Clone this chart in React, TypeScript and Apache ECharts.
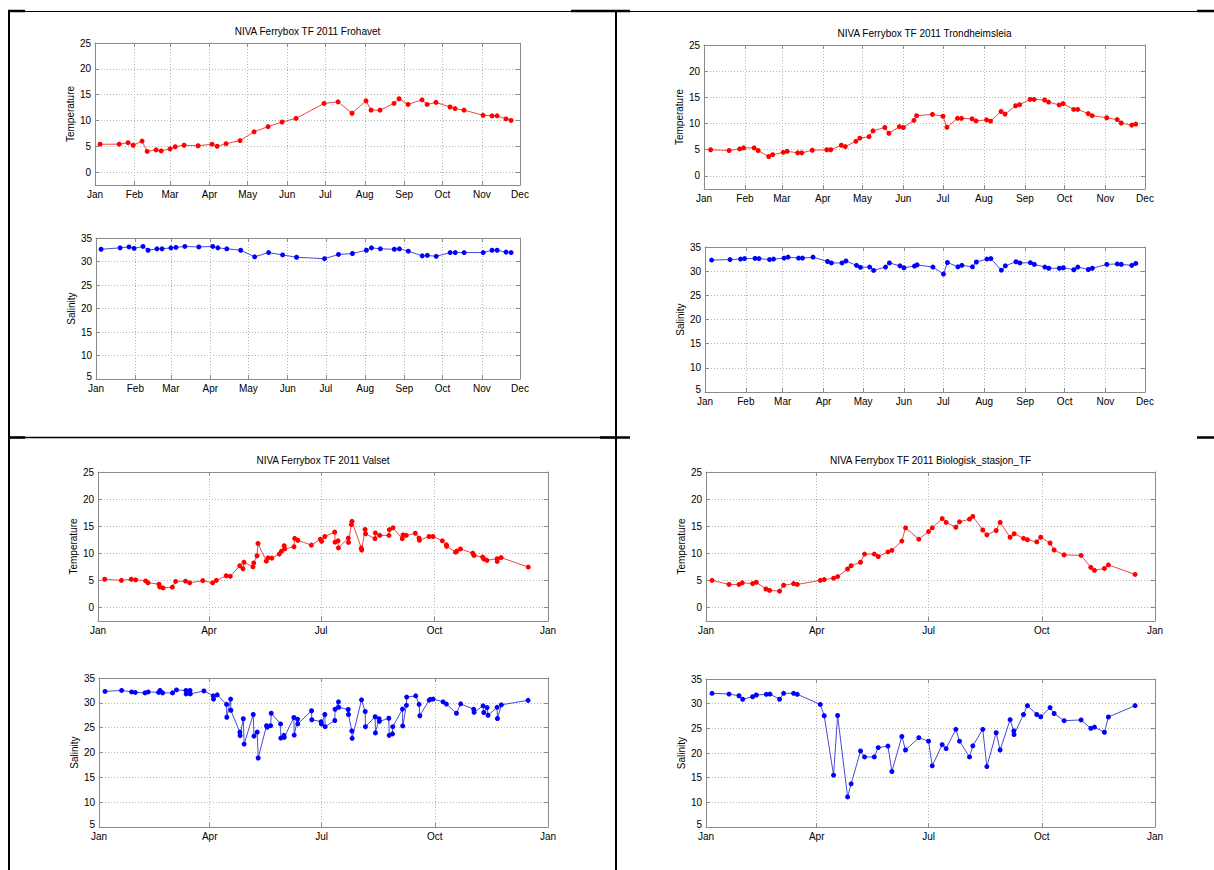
import React, { useEffect, useRef } from "react";
import * as echarts from "echarts";

// Axis ticks (day of year 2011) and their labels
const monthTicks = [0, 31, 59, 90, 120, 151, 181, 212, 243, 273, 304, 334];
const monthLabels = ["Jan", "Feb", "Mar", "Apr", "May", "Jun", "Jul", "Aug", "Sep", "Oct", "Nov", "Dec"];
const quarterTicks = [0, 90, 181, 273, 365];
const quarterLabels = ["Jan", "Apr", "Jul", "Oct", "Jan"];
const tempTicks = [0, 5, 10, 15, 20, 25];
const salTicks = [5, 10, 15, 20, 25, 30, 35];

// Frohavet
const frohavetDays = [4, 19, 26, 30, 37, 41, 48, 52, 59, 63, 70, 81, 92, 96, 103, 114, 125, 136, 147, 158, 180, 191, 202, 213, 217, 224, 235, 239, 246, 257, 261, 268, 279, 283, 290, 305, 312, 316, 323, 327];
const frohavetTemp = [5.4, 5.4, 5.7, 5.2, 6.0, 4.0, 4.3, 4.1, 4.5, 4.9, 5.2, 5.1, 5.4, 5.0, 5.5, 6.1, 7.8, 8.8, 9.7, 10.4, 13.3, 13.6, 11.4, 13.8, 12.0, 12.0, 13.3, 14.2, 13.1, 14.0, 13.1, 13.5, 12.6, 12.3, 12.0, 11.0, 10.9, 10.9, 10.3, 10.0];
const frohavetSal = [32.6, 32.9, 33.1, 32.8, 33.2, 32.4, 32.7, 32.7, 32.9, 33.0, 33.2, 33.1, 33.2, 32.9, 32.7, 32.4, 31.0, 31.9, 31.4, 30.9, 30.6, 31.5, 31.7, 32.4, 32.9, 32.7, 32.6, 32.7, 32.2, 31.2, 31.3, 31.1, 31.9, 31.9, 31.9, 31.9, 32.4, 32.4, 32.0, 31.9];

// Trondheimsleia
const trondDays = [5, 19, 27, 30, 38, 41, 49, 52, 60, 63, 71, 74, 82, 93, 96, 104, 107, 115, 118, 125, 128, 137, 140, 148, 151, 159, 161, 173, 181, 184, 192, 195, 203, 206, 214, 217, 225, 228, 236, 239, 247, 250, 258, 261, 269, 272, 280, 283, 291, 294, 305, 313, 316, 324, 327];
const trondTemp = [5.0, 4.85, 5.15, 5.35, 5.35, 4.85, 3.7, 4.05, 4.5, 4.7, 4.4, 4.4, 4.9, 5.0, 5.0, 5.85, 5.6, 6.6, 7.2, 7.5, 8.6, 9.25, 8.15, 9.4, 9.25, 10.6, 11.5, 11.75, 11.4, 9.3, 11.0, 11.0, 10.9, 10.5, 10.7, 10.45, 12.3, 11.8, 13.4, 13.6, 14.6, 14.6, 14.5, 14.1, 13.55, 13.8, 12.7, 12.7, 11.9, 11.5, 11.1, 10.75, 10.1, 9.7, 9.9];
const trondSal = [32.3, 32.4, 32.5, 32.6, 32.65, 32.6, 32.4, 32.5, 32.7, 32.9, 32.7, 32.7, 32.9, 32.0, 31.7, 31.7, 32.1, 31.2, 30.8, 30.85, 30.15, 30.85, 31.7, 31.1, 30.7, 31.05, 31.3, 30.85, 29.4, 31.8, 30.9, 31.2, 30.9, 31.9, 32.5, 32.6, 30.2, 31.1, 31.95, 31.7, 31.75, 31.4, 30.85, 30.6, 30.6, 30.7, 30.3, 30.85, 30.35, 30.6, 31.4, 31.5, 31.4, 31.2, 31.6];

// Valset
const valsetTempDays = [5.4, 19, 27, 30.5, 38.7, 40.6, 49.5, 50, 52.7, 60.3, 63, 71, 74.4, 85, 93, 96, 104, 107.3, 115, 117.6, 118.4, 125.7, 126.3, 129, 129.8, 136.5, 137.9, 141, 147, 148.7, 151, 151.4, 159, 159.5, 162, 173, 180.4, 181.4, 184, 192, 192.3, 194.7, 195, 203, 203.2, 205.5, 206, 213.6, 213.9, 216.6, 217, 224.7, 225, 228.5, 236, 236.3, 239.3, 246.8, 247.4, 250, 257.4, 260.4, 260.7, 268.5, 271.7, 279.3, 282.6, 282.8, 290, 291, 294, 304, 305, 312, 313, 315.5, 323.7, 323.8, 327, 349];
const valsetTemp = [5.2, 5.0, 5.2, 5.1, 4.9, 4.55, 4.3, 3.8, 3.6, 3.75, 4.8, 4.85, 4.55, 4.95, 4.55, 5.0, 5.85, 5.75, 7.7, 7.15, 8.35, 7.5, 8.2, 9.55, 11.8, 8.55, 9.15, 9.1, 9.85, 10.35, 11.4, 10.8, 11.2, 12.75, 12.4, 11.5, 12.6, 12.2, 13.1, 13.9, 12.05, 12.3, 11.0, 12.8, 12.0, 15.3, 15.9, 10.95, 10.6, 14.4, 13.6, 12.7, 13.75, 13.3, 13.3, 14.35, 14.7, 12.7, 13.4, 13.3, 13.7, 12.8, 12.4, 13.1, 13.1, 12.3, 11.55, 11.3, 10.2, 10.4, 10.8, 10.0, 9.6, 9.3, 8.95, 8.7, 9.0, 8.5, 9.2, 7.45];
const valsetSalDays = [4.9, 18.4, 26.5, 29.5, 37.4, 40, 48.5, 49.6, 51.7, 59.8, 63, 70.7, 70.9, 74, 74.2, 85.3, 92.9, 93.1, 96.1, 103.7, 103.9, 107, 107.2, 114.5, 114.7, 117.3, 118, 125.4, 126, 128.6, 129.4, 136.2, 136.8, 139.5, 140, 147.6, 147.8, 150.3, 150.6, 158.4, 158.7, 161.4, 161.6, 172.8, 173, 180.6, 180.8, 183.6, 183.8, 191.7, 191.9, 194.7, 194.9, 202.6, 202.8, 205.5, 205.8, 213.4, 216.4, 216.6, 224.5, 224.7, 227.7, 227.9, 235.6, 235.9, 238.6, 238.8, 246.7, 246.9, 249.9, 250.1, 257.5, 260.2, 260.8, 268.4, 269.4, 271.6, 279.7, 282.4, 290.6, 294, 304.6, 304.9, 312.2, 312.8, 315.5, 316.3, 323.6, 323.9, 327.1, 348.8];
const valsetSal = [32.3, 32.5, 32.2, 32.1, 32.0, 32.2, 32.1, 32.5, 32.0, 32.0, 32.6, 32.5, 31.8, 32.5, 31.8, 32.4, 31.4, 30.75, 31.6, 29.7, 27.1, 30.75, 28.5, 24.1, 23.4, 26.8, 21.7, 27.65, 23.3, 24.1, 18.9, 25.4, 25.1, 25.4, 27.9, 25.75, 22.9, 23.45, 23.05, 27.05, 23.5, 26.7, 25.75, 28.4, 26.6, 26.2, 25.75, 27.65, 25.2, 26.45, 28.7, 30.2, 29.1, 28.65, 27.65, 24.35, 22.85, 30.6, 28.25, 25.2, 27.2, 23.95, 26.8, 26.25, 26.9, 23.45, 23.75, 25.2, 28.75, 25.35, 29.5, 31.15, 31.4, 29.7, 27.4, 30.55, 30.7, 30.75, 30.2, 29.75, 27.9, 29.8, 28.7, 28.1, 29.4, 28.05, 29.05, 27.5, 29.1, 26.85, 29.6, 30.5];

// Biologisk_stasjon_TF
const bioTempDays = [4.9, 18.7, 26.8, 29.5, 37.9, 40.9, 48.7, 51.7, 59.8, 63.1, 71.2, 74.2, 92.9, 96.1, 103.7, 107, 115.1, 118, 125.6, 128.9, 136.8, 140, 147.9, 151.1, 159.2, 162.2, 173, 180.9, 183.9, 192, 195.2, 203.1, 206.1, 214.2, 216.9, 225, 228.3, 235.9, 239.1, 247.2, 250.5, 258.1, 261.3, 268.9, 272.1, 279.7, 283, 291.1, 304.9, 312.8, 315.8, 323.9, 327.1, 348.8];
const bioTemp = [5.0, 4.25, 4.25, 4.55, 4.4, 4.65, 3.4, 3.15, 3.0, 4.1, 4.4, 4.25, 5.0, 5.15, 5.4, 5.7, 7.1, 7.7, 8.35, 9.85, 9.85, 9.4, 10.25, 10.55, 12.25, 14.7, 12.6, 14.0, 14.7, 16.4, 15.7, 14.8, 15.8, 16.3, 16.8, 14.3, 13.4, 14.2, 15.7, 12.95, 13.6, 12.75, 12.5, 12.1, 12.95, 11.9, 10.6, 9.7, 9.6, 7.4, 6.85, 7.2, 7.85, 6.1];
const bioSalDays = [4.9, 18.7, 26.8, 29.8, 37.9, 40.9, 49, 52, 59.8, 63.1, 71.2, 74.2, 92.9, 96.1, 103.7, 107, 115.1, 118, 125.6, 128.9, 136.8, 140, 147.9, 151.1, 159.2, 162.2, 173, 180.9, 183.9, 192, 195.2, 203.1, 206.1, 214.2, 216.9, 225, 228.3, 235.9, 239.1, 247.2, 250.2, 250.4, 258.1, 261.3, 268.9, 272.1, 279.7, 283, 291.1, 304.9, 312.8, 315.8, 323.9, 327.1, 348.8];
const bioSal = [32.1, 31.95, 31.6, 30.9, 31.4, 31.75, 31.9, 31.95, 30.9, 32.1, 32.1, 31.9, 29.85, 27.55, 15.5, 27.6, 11.1, 13.75, 20.4, 19.2, 19.2, 21.1, 21.4, 16.25, 23.35, 20.6, 23.1, 22.4, 17.4, 21.7, 20.9, 24.8, 22.4, 19.2, 21.45, 24.8, 17.25, 24.1, 20.6, 26.75, 24.5, 23.75, 27.8, 29.6, 27.8, 27.35, 29.2, 28.0, 26.55, 26.7, 25.0, 25.25, 24.2, 27.3, 29.6];

const FONT = "'Liberation Sans', Arial, Helvetica, sans-serif";
const BOX = "#8a8a8a";
const GRIDLINE = "#b4b4b4";

type Plot = {
  left: number; top: number; width: number; height: number;
  xTicks: number[]; xLabels: string[]; xMax: number;
  yMin: number; yMax: number; yTicks: number[]; yName: string;
  days: number[]; values: number[]; kind: "temp" | "sal";
  title?: string;
};

const plots: Plot[] = [
  { left: 95, top: 43, width: 425, height: 142, xTicks: monthTicks, xLabels: monthLabels, xMax: 334, yMin: -2.5, yMax: 25, yTicks: tempTicks, yName: "Temperature", days: frohavetDays, values: frohavetTemp, kind: "temp", title: "NIVA Ferrybox TF 2011 Frohavet" },
  { left: 96, top: 238, width: 424, height: 141, xTicks: monthTicks, xLabels: monthLabels, xMax: 334, yMin: 5, yMax: 35, yTicks: salTicks, yName: "Salinity", days: frohavetDays, values: frohavetSal, kind: "sal" },
  { left: 704, top: 45, width: 441, height: 144, xTicks: monthTicks, xLabels: monthLabels, xMax: 334, yMin: -2.5, yMax: 25, yTicks: tempTicks, yName: "Temperature", days: trondDays, values: trondTemp, kind: "temp", title: "NIVA Ferrybox TF 2011 Trondheimsleia" },
  { left: 705, top: 247, width: 440, height: 145, xTicks: monthTicks, xLabels: monthLabels, xMax: 334, yMin: 5, yMax: 35, yTicks: salTicks, yName: "Salinity", days: trondDays, values: trondSal, kind: "sal" },
  { left: 98, top: 472, width: 450, height: 149, xTicks: quarterTicks, xLabels: quarterLabels, xMax: 365, yMin: -2.5, yMax: 25, yTicks: tempTicks, yName: "Temperature", days: valsetTempDays, values: valsetTemp, kind: "temp", title: "NIVA Ferrybox TF 2011 Valset" },
  { left: 99, top: 678, width: 449, height: 149, xTicks: quarterTicks, xLabels: quarterLabels, xMax: 365, yMin: 5, yMax: 35, yTicks: salTicks, yName: "Salinity", days: valsetSalDays, values: valsetSal, kind: "sal" },
  { left: 706, top: 472, width: 449, height: 149, xTicks: quarterTicks, xLabels: quarterLabels, xMax: 365, yMin: -2.5, yMax: 25, yTicks: tempTicks, yName: "Temperature", days: bioTempDays, values: bioTemp, kind: "temp", title: "NIVA Ferrybox TF 2011 Biologisk_stasjon_TF" },
  { left: 706, top: 679, width: 449, height: 148, xTicks: quarterTicks, xLabels: quarterLabels, xMax: 365, yMin: 5, yMax: 35, yTicks: salTicks, yName: "Salinity", days: bioSalDays, values: bioSal, kind: "sal" },
];

function labelFor(ticks: number[], labels: string[]) {
  return (v: number) => {
    const i = ticks.findIndex((t) => Math.abs(t - v) < 0.01);
    return i >= 0 ? labels[i] : "";
  };
}

function buildOption() {
  const grid: any[] = [];
  const xAxis: any[] = [];
  const yAxis: any[] = [];
  const series: any[] = [];
  const graphic: any[] = [];

  plots.forEach((p, i) => {
    grid.push({ left: p.left, top: p.top, width: p.width, height: p.height, show: false });
    const axisLine = { show: true, onZero: false, lineStyle: { color: BOX, width: 1 } };
    const splitLine = { show: true, lineStyle: { color: GRIDLINE, width: 1, type: [1, 2] } };
    const label = { color: "#000", fontSize: 10, fontFamily: FONT };
    // bottom / left axes with labels and grid lines
    xAxis.push({
      type: "value", gridIndex: i, position: "bottom", min: 0, max: p.xMax,
      axisLine, splitLine,
      axisTick: { show: true, inside: true, length: 4, customValues: p.xTicks, lineStyle: { color: BOX } },
      axisLabel: { ...label, margin: 4, customValues: p.xTicks, showMinLabel: true, showMaxLabel: true, formatter: labelFor(p.xTicks, p.xLabels) },
    });
    // mirrored top axis: box edge with inward ticks
    xAxis.push({
      type: "value", gridIndex: i, position: "top", min: 0, max: p.xMax,
      axisLine, splitLine: { show: false },
      axisTick: { show: true, inside: true, length: 4, customValues: p.xTicks, lineStyle: { color: BOX } },
      axisLabel: { show: false },
    });
    // the lowest salinity label sits just above the month label at the corner
    const yFormatter = (v: number) => (Math.abs(v - p.yMin) < 0.01 ? `{lo|${v}}` : `${v}`);
    yAxis.push({
      type: "value", gridIndex: i, position: "left", min: p.yMin, max: p.yMax,
      axisLine, splitLine,
      axisTick: { show: true, inside: true, length: 4, customValues: p.yTicks, lineStyle: { color: BOX } },
      axisLabel: {
        ...label, margin: 4, customValues: p.yTicks, showMinLabel: true, showMaxLabel: true,
        formatter: yFormatter,
        rich: { lo: { color: "#000", fontSize: 10, fontFamily: FONT, padding: [0, 0, 5, 0] } },
      },
      name: p.yName, nameLocation: "middle", nameRotate: 90, nameGap: 19,
      nameTextStyle: { color: "#000", fontSize: 10, fontFamily: FONT },
    });
    yAxis.push({
      type: "value", gridIndex: i, position: "right", min: p.yMin, max: p.yMax,
      axisLine, splitLine: { show: false },
      axisTick: { show: true, inside: true, length: 4, customValues: p.yTicks, lineStyle: { color: BOX } },
      axisLabel: { show: false },
    });
    const isTemp = p.kind === "temp";
    series.push({
      type: "line",
      xAxisIndex: 2 * i,
      yAxisIndex: 2 * i,
      data: p.days.map((d, k) => [d, p.values[k]]),
      symbol: "circle",
      symbolSize: 5,
      showSymbol: true,
      showAllSymbol: true,
      itemStyle: { color: isTemp ? "#ff0000" : "#0000ff" },
      lineStyle: { color: isTemp ? "#e84a4a" : "#4a4ad8", width: 1 },
      silent: true,
      z: 3,
    });
    if (p.title) {
      graphic.push({
        type: "text", x: p.left + p.width / 2, y: p.top - 12,
        style: { text: p.title, fill: "#000", font: `10px ${FONT}`, textAlign: "center", textVerticalAlign: "middle" },
      });
    }
  });

  // table frame around the four panels
  const frame = (x1: number, y1: number, x2: number, y2: number, w: number) => ({
    type: "line", shape: { x1, y1, x2, y2 }, style: { stroke: "#000", lineWidth: w }, silent: true,
  });
  graphic.push(
    frame(8, 11.5, 1214, 11.5, 1),
    frame(8, 11, 25, 11, 2.5),
    frame(571, 11, 630, 11, 2.5),
    frame(1197, 11, 1214, 11, 2.5),
    frame(9, 10, 9, 870, 2),
    frame(616, 10, 616, 870, 2),
    frame(8, 437.5, 616, 437.5, 1.5),
    frame(600, 437.5, 630, 437.5, 2.5),
    frame(8, 437.5, 25, 437.5, 2.5),
    frame(1197, 437.5, 1214, 437.5, 2.5),
  );

  return { animation: false, backgroundColor: "#fff", grid, xAxis, yAxis, series, graphic };
}

export default function App() {
  const ref = useRef<HTMLDivElement>(null);
  useEffect(() => {
    if (!ref.current) return;
    const chart = echarts.init(ref.current, undefined, { renderer: "svg" });
    chart.setOption(buildOption());
    return () => chart.dispose();
  }, []);
  return (
    <div
      ref={ref}
      style={{ position: "absolute", left: 0, top: 0, width: 1214, height: 870, background: "#fff" }}
    />
  );
}
